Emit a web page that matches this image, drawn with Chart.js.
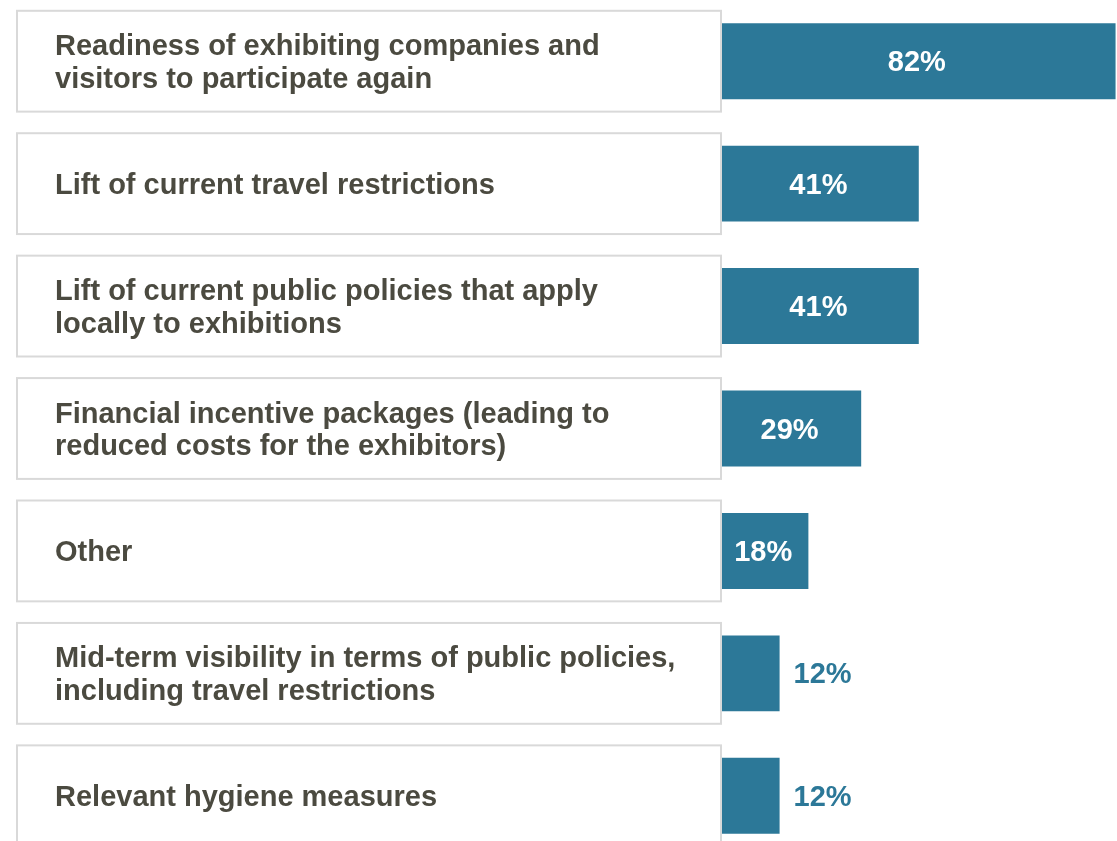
<!DOCTYPE html>
<html>
<head>
<meta charset="utf-8">
<script src="https://cdn.jsdelivr.net/npm/chart.js@4"></script>
<style>
  html, body { margin: 0; padding: 0; background: #ffffff; overflow: hidden; }
  #wrap { width: 1117px; height: 857px; }
</style>
</head>
<body>
<div id="wrap"><canvas id="c" width="1117" height="857"></canvas></div>
<script>
const categories = [
  ["Readiness of exhibiting companies and", "visitors to participate again"],
  ["Lift of current travel restrictions"],
  ["Lift of current public policies that apply", "locally to exhibitions"],
  ["Financial incentive packages (leading to", "reduced costs for the exhibitors)"],
  ["Other"],
  ["Mid-term visibility in terms of public policies,", "including travel restrictions"],
  ["Relevant hygiene measures"]
];
const values = [82, 41, 41, 29, 18, 12, 12];
const valueLabels = ["82%", "41%", "41%", "29%", "18%", "12%", "12%"];

const BAR_COLOR = "#2c7898";
const TEXT_COLOR = "#4b4a40";
const BOX_COLOR = "#d9d9d9";
const FONT = "bold 29px 'Liberation Sans', Arial, sans-serif";

const boxesPlugin = {
  id: 'boxes',
  beforeDatasetsDraw(chart) {
    const ctx = chart.ctx;
    const y = chart.scales.y;
    const left = chart.chartArea.left;
    const band = (y.getPixelForValue(1) - y.getPixelForValue(0));
    const boxH = band * 0.84;
    ctx.save();
    categories.forEach((lines, i) => {
      const cy = y.getPixelForValue(i);
      const top = cy - boxH / 2;
      ctx.fillStyle = "#ffffff";
      ctx.fillRect(17, top + 1, left - 18, boxH - 2);
      ctx.strokeStyle = BOX_COLOR;
      ctx.lineWidth = 2;
      ctx.strokeRect(17, top + 1, left - 18, boxH - 2);
      ctx.fillStyle = TEXT_COLOR;
      ctx.font = FONT;
      ctx.textAlign = "left";
      ctx.textBaseline = "alphabetic";
      if (lines.length === 1) {
        ctx.fillText(lines[0], 55, cy + 10);
      } else {
        ctx.fillText(lines[0], 55, cy - 6);
        ctx.fillText(lines[1], 55, cy + 26.5);
      }
    });
    ctx.restore();
  },
  afterDatasetsDraw(chart) {
    const ctx = chart.ctx;
    const meta = chart.getDatasetMeta(0);
    ctx.save();
    ctx.font = FONT;
    ctx.textBaseline = "alphabetic";
    meta.data.forEach((bar, i) => {
      if (values[i] >= 15) {
        ctx.fillStyle = "#ffffff";
        ctx.textAlign = "center";
        ctx.fillText(valueLabels[i], (bar.x + bar.base) / 2 - 2, bar.y + 10);
      } else {
        ctx.fillStyle = BAR_COLOR;
        ctx.textAlign = "left";
        ctx.fillText(valueLabels[i], bar.x + 14, bar.y + 10);
      }
    });
    ctx.restore();
  }
};

new Chart(document.getElementById('c'), {
  type: 'bar',
  data: {
    labels: categories,
    datasets: [{
      data: values,
      backgroundColor: BAR_COLOR,
      borderWidth: 0,
      barPercentage: 0.62,
      categoryPercentage: 1.0
    }]
  },
  options: {
    indexAxis: 'y',
    responsive: false,
    animation: false,
    layout: { padding: { left: 722, right: 0, top: 0, bottom: 0 } },
    plugins: { legend: { display: false }, tooltip: { enabled: false } },
    scales: {
      x: { display: false, min: 0, max: 82.3 },
      y: { display: false, offset: true }
    }
  },
  plugins: [boxesPlugin]
});
</script>
</body>
</html>
